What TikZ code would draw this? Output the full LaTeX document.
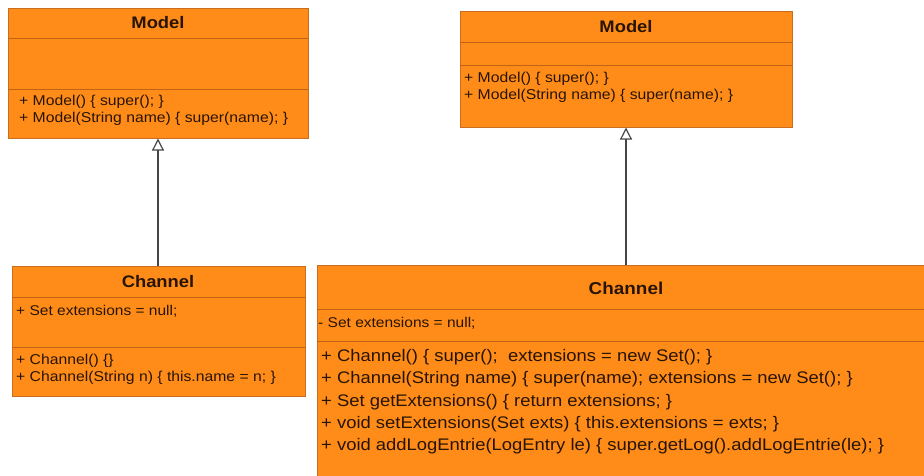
\documentclass[tikz,border=0pt]{standalone}
\usepackage{fontspec}
\setmainfont{Liberation Sans}[FakeStretch=1.1]
\usetikzlibrary{arrows.meta}
\definecolor{boxfill}{RGB}{255,140,24}
\definecolor{boxline}{RGB}{200,110,30}
\definecolor{sepline}{RGB}{190,100,20}
\definecolor{txt}{RGB}{40,20,5}
\definecolor{conn}{RGB}{70,70,70}
\tikzset{
  umlbox/.style={draw=boxline, fill=boxfill, line width=0.9pt, inner sep=0pt, anchor=north west},
  sep/.style={draw=sepline, line width=0.7pt},
  title/.style={font=\bfseries\fontsize{16.7}{19}\selectfont, text=txt, inner sep=0pt},
  body/.style={font=\fontsize{14.3}{16}\selectfont, text=txt, anchor=west, inner sep=0pt},
  bigbody/.style={font=\fontsize{16.75}{19}\selectfont, text=txt, anchor=west, inner sep=0pt},
  smallbody/.style={font=\fontsize{14.1}{16}\selectfont, text=txt, anchor=west, inner sep=0pt},
  inherit/.style={draw=conn, line width=1.4pt, -{Triangle[open, length=12pt, width=12pt, line width=1.2pt]}}
}
\begin{document}
\begin{tikzpicture}[x=1pt,y=-1pt]
\useasboundingbox (0,0) rectangle (924,475);
% Left Model
\node[umlbox, minimum width=300pt, minimum height=130pt] (lm) at (8,8) {};
\draw[sep] (8,38) -- (308,38);
\draw[sep] (8,89) -- (308,89);
\node[title] (lmt) at (158,23) {Model};
\node[body] (lm1) at (19,102) {+ Model() \{ super(); \}};
\node[body] (lm2) at (19,119) {+ Model(String name) \{ super(name); \}};
% Left Channel
\node[umlbox, minimum width=293pt, minimum height=130pt] (lc) at (12,266) {};
\draw[sep] (12,297) -- (305,297);
\draw[sep] (12,347) -- (305,347);
\node[title] (lct) at (158,282) {Channel};
\node[smallbody] (lc1) at (16,311) {+ Set extensions = null;};
\node[body] (lc2) at (16,361) {+ Channel() \{\}};
\node[body] (lc3) at (16,378) {+ Channel(String n) \{ this.name = n; \}};
% Right Model
\node[umlbox, minimum width=332pt, minimum height=116pt] (rm) at (460,11) {};
\draw[sep] (460,42) -- (792,42);
\draw[sep] (460,65) -- (792,65);
\node[title] (rmt) at (626,27) {Model};
\node[body] (rm1) at (464,79) {+ Model() \{ super(); \}};
\node[body] (rm2) at (464,96) {+ Model(String name) \{ super(name); \}};
% Right Channel
\node[umlbox, minimum width=630pt, minimum height=230pt] (rc) at (317,265) {};
\draw[sep] (317,309) -- (947,309);
\draw[sep] (317,341) -- (947,341);
\node[title, font=\bfseries\fontsize{17.2}{19}\selectfont] (rct) at (626,288) {Channel};
\node[smallbody] (rc1) at (318,323) {- Set extensions = null;};
\node[bigbody] (rc2) at (321,357) {+ Channel() \{ super();~~extensions = new Set(); \}};
\node[bigbody] (rc3) at (321,379) {+ Channel(String name) \{ super(name); extensions = new Set(); \}};
\node[bigbody] (rc4) at (321,402) {+ Set getExtensions() \{ return extensions; \}};
\node[bigbody] (rc5) at (321,424) {+ void setExtensions(Set exts) \{ this.extensions = exts; \}};
\node[bigbody] (rc6) at (321,446) {+ void addLogEntrie(LogEntry le) \{ super.getLog().addLogEntrie(le); \}};
% Inheritance
\coordinate (lcTop) at (158,266);
\coordinate (lmBot) at (158,138.5);
\coordinate (rcTop) at (626,265);
\coordinate (rmBot) at (626,127.5);
\draw[inherit] (lcTop) -- (lmBot);
\draw[inherit] (rcTop) -- (rmBot);
\end{tikzpicture}
\end{document}
